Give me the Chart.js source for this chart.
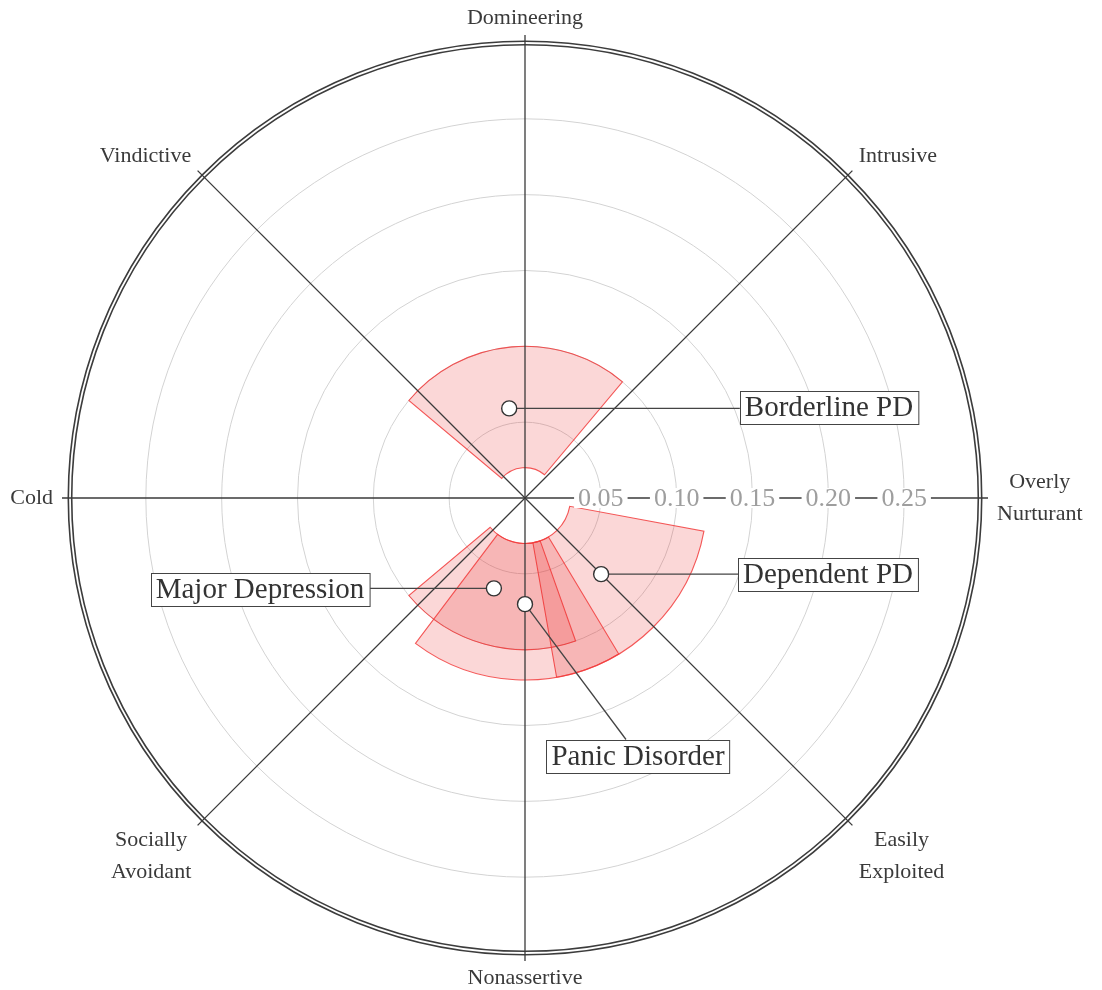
<!DOCTYPE html>
<html>
<head>
<meta charset="utf-8">
<script src="https://cdn.jsdelivr.net/npm/chart.js@4.4.1/dist/chart.umd.min.js"></script>
<style>
  html, body { margin: 0; padding: 0; background: #fff; }
  #contenedor { width: 1102px; height: 990px; position: relative; }
</style>
</head>
<body>
<div id="contenedor"><canvas id="circumplejo"></canvas></div>
<script>
// octants, clockwise starting at the top
const octantes = ['Domineering', 'Intrusive', ['Overly', 'Nurturant'], ['Easily', 'Exploited'],
    'Nonassertive', ['Socially', 'Avoidant'], 'Cold', 'Vindictive']

// amplitude ticks along the Overly Nurturant axis
const ticksValores = [0.05, 0.10, 0.15, 0.20, 0.25]
const ticksEtiquetas = ['0.05', '0.10', '0.15', '0.20', '0.25']

// groups: angle in degrees counter-clockwise from Overly Nurturant, amplitude
const grupos = ['Borderline PD', 'Dependent PD', 'Major Depression', 'Panic Disorder']
const angulos = [100, 315, 251, 270]
const amplitudes = [0.060, 0.071, 0.063, 0.070]
// confidence ranges for angle and amplitude
const anguloMin = [50, 280, 220, 233]
const anguloMax = [140, 349.5, 289.5, 301]
const amplitudMin = [0.02, 0.03, 0.03, 0.03]
const amplitudMax = [0.10, 0.12, 0.10, 0.12]

// where each name box sits (px) and from which side its line comes in
const cajas = [
    { cx: 829, cy: 407, lado: 'izq' },
    { cx: 828, cy: 574, lado: 'izq' },
    { cx: 260, cy: 589, lado: 'der' },
    { cx: 638, cy: 756, lado: 'arriba', dx: -12 },
]

const serif = '"Liberation Serif", "Times New Roman", serif'
const esBorde = c => c.tick && c.tick.value > 0.29

const circumplejo = {
    id: 'circumplejo',
    afterDraw(chart) {
        const ctx = chart.ctx
        const r = chart.scales.r
        const cx = r.xCenter
        const cy = r.yCenter
        const R = r.drawingArea
        const dist = v => r.getDistanceFromCenterForValue(v)
        // index 2 (Overly Nurturant) is 0 degrees, angles grow counter-clockwise
        const ang = g => r.getIndexAngle(2) - Math.PI / 2 - g * Math.PI / 180
        const punto = (g, v) => ({ x: cx + Math.cos(ang(g)) * dist(v), y: cy + Math.sin(ang(g)) * dist(v) })

        ctx.save()

        // white gap in the outer ring -> double line
        ctx.beginPath()
        ctx.arc(cx, cy, dist(0.30), 0, Math.PI * 2)
        ctx.strokeStyle = '#fff'
        ctx.lineWidth = 1.8
        ctx.stroke()

        // wedges
        grupos.forEach((g, i) => {
            const a0 = ang(anguloMin[i])
            const a1 = ang(anguloMax[i])
            ctx.beginPath()
            ctx.arc(cx, cy, dist(amplitudMax[i]), a1, a0)
            ctx.arc(cx, cy, dist(amplitudMin[i]), a0, a1, true)
            ctx.closePath()
            ctx.fillStyle = 'rgba(232, 40, 40, 0.19)'
            ctx.fill()
            ctx.strokeStyle = 'rgba(242, 60, 60, 0.85)'
            ctx.lineWidth = 1.1
            ctx.stroke()
        })

        // spokes, a little past the ring
        ctx.strokeStyle = '#3a3a3a'
        ctx.lineWidth = 1.3
        octantes.forEach((o, i) => {
            const p = r.getPointPosition(i, R + 8)
            ctx.beginPath()
            ctx.moveTo(cx, cy)
            ctx.lineTo(p.x, p.y)
            ctx.stroke()
        })

        // tick labels with backdrop
        ctx.font = '26px ' + serif
        ctx.textAlign = 'center'
        ctx.textBaseline = 'middle'
        ticksValores.forEach((v, i) => {
            const p = r.getPointPosition(2, dist(v))
            const w = ctx.measureText(ticksEtiquetas[i]).width
            ctx.fillStyle = '#fff'
            ctx.fillRect(p.x - w / 2 - 4, p.y - 10, w + 8, 20)
            ctx.fillStyle = '#9e9e9e'
            ctx.fillText(ticksEtiquetas[i], p.x, p.y + 1)
        })

        // leader lines
        ctx.font = '29px ' + serif
        const alto = 33
        const anchos = grupos.map(g => ctx.measureText(g).width + 10)
        ctx.strokeStyle = '#444'
        ctx.lineWidth = 1.3
        grupos.forEach((g, i) => {
            const p = punto(angulos[i], amplitudes[i])
            const c = cajas[i]
            let fin
            if (c.lado === 'izq') fin = { x: c.cx - anchos[i] / 2, y: p.y }
            else if (c.lado === 'der') fin = { x: c.cx + anchos[i] / 2, y: p.y }
            else fin = { x: c.cx + c.dx, y: c.cy - alto / 2 }
            ctx.beginPath()
            ctx.moveTo(p.x, p.y)
            ctx.lineTo(fin.x, fin.y)
            ctx.stroke()
        })

        // points
        grupos.forEach((g, i) => {
            const p = punto(angulos[i], amplitudes[i])
            ctx.beginPath()
            ctx.arc(p.x, p.y, 7.5, 0, Math.PI * 2)
            ctx.fillStyle = '#fff'
            ctx.fill()
            ctx.strokeStyle = '#333'
            ctx.lineWidth = 1.4
            ctx.stroke()
        })

        // name boxes
        grupos.forEach((g, i) => {
            const c = cajas[i]
            const x0 = Math.round(c.cx - anchos[i] / 2) + 0.5
            const y0 = Math.round(c.cy - alto / 2) + 0.5
            ctx.fillStyle = '#fff'
            ctx.fillRect(x0, y0, anchos[i], alto)
            ctx.strokeStyle = '#444'
            ctx.lineWidth = 1
            ctx.strokeRect(x0, y0, anchos[i], alto)
            ctx.fillStyle = '#333'
            ctx.textAlign = 'center'
            ctx.textBaseline = 'middle'
            ctx.fillText(g, c.cx, c.cy + 1)
        })

        // octant names
        ctx.font = '22px ' + serif
        ctx.fillStyle = '#3a3a3a'
        const interlinea = 32
        const mitadCap = 8
        octantes.forEach((o, i) => {
            const lineas = Array.isArray(o) ? o : [o]
            const p = r.getPointPosition(i, R + 17)
            const ancho = Math.max(...lineas.map(l => ctx.measureText(l).width))
            const altoBloque = (lineas.length - 1) * interlinea + 2 * mitadCap
            let centroX = p.x
            if (i >= 1 && i <= 3) centroX = p.x + ancho / 2
            if (i >= 5) centroX = p.x - ancho / 2
            let arriba = p.y - altoBloque / 2
            if (i === 7 || i === 0 || i === 1) arriba = p.y - altoBloque
            if (i >= 3 && i <= 5) arriba = p.y
            ctx.textAlign = 'center'
            ctx.textBaseline = 'middle'
            lineas.forEach((l, k) => {
                ctx.fillText(l, centroX, arriba + mitadCap + k * interlinea)
            })
        })

        ctx.restore()
    }
}

new Chart(document.getElementById('circumplejo'), {
    type: 'radar',
    data: {
        labels: octantes,
        datasets: []
    },
    options: {
        responsive: true,
        maintainAspectRatio: false,
        animation: false,
        layout: { padding: { left: 70, right: 122, top: 43, bottom: 37 } },
        plugins: {
            legend: { display: false },
            tooltip: { enabled: false }
        },
        scales: {
            r: {
                min: 0,
                max: 0.30,
                ticks: { display: false, stepSize: 0.05 },
                grid: {
                    circular: true,
                    color: c => esBorde(c) ? '#3c3c3c' : '#d3d3d3',
                    lineWidth: c => esBorde(c) ? 5 : 1
                },
                angleLines: { display: false },
                pointLabels: { display: false }
            }
        }
    },
    plugins: [circumplejo]
})
</script>
</body>
</html>
